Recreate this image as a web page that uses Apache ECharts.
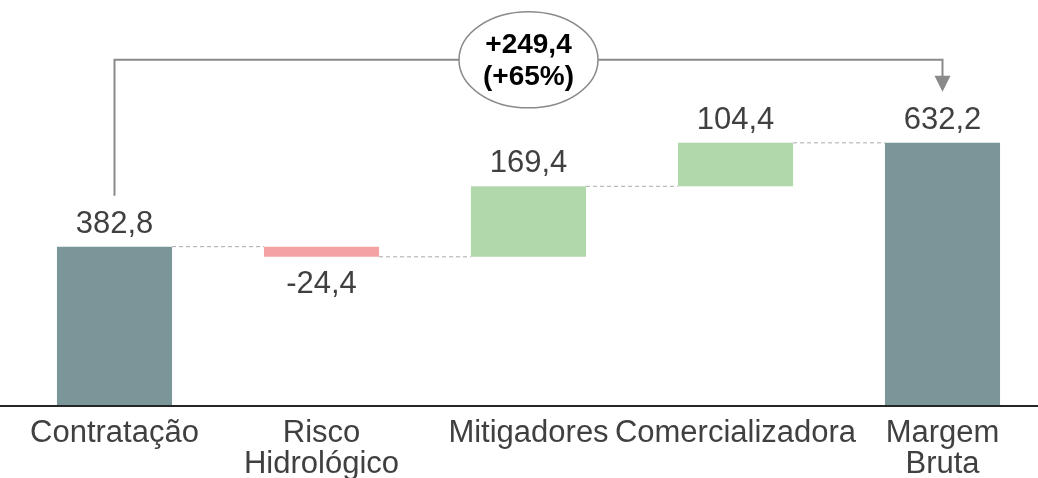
<!DOCTYPE html>
<html><head><meta charset="utf-8">
<script src="https://cdn.jsdelivr.net/npm/echarts@6/dist/echarts.min.js"></script>
<style>html,body{margin:0;padding:0;background:#fff}#c{width:1038px;height:478px}</style>
</head><body><div id="c"></div>
<script>
const categories = ['Contratação', 'Risco\nHidrológico', 'Mitigadores', 'Comercializadora', 'Margem\nBruta'];
const deltas = [382.8, -24.4, 169.4, 104.4, 632.2];
const isTotal = [true, false, false, false, true];
const bracketText = ['+249,4', '(+65%)'];
const bracketFrom = 0;
const bracketTo = 4;

const FONT = "'Liberation Sans', Arial, sans-serif";
const C_TOTAL = '#7B9698', C_POS = '#B0D8AA', C_NEG = '#F4A3A3';
const fmt = v => (v < 0 ? '-' : '') + Math.abs(v).toFixed(1).replace('.', ',');

// derived running totals
const bases = [], heights = [], tops = [], levels = [];
let run = 0;
deltas.forEach((d, i) => {
  if (isTotal[i]) { bases.push(0); heights.push(d); run = d; }
  else if (d >= 0) { bases.push(run); heights.push(d); run += d; }
  else { bases.push(run + d); heights.push(-d); run += d; }
  tops.push(bases[i] + heights[i]);
  levels.push(run);
});
const connectors = [];
for (let i = 0; i < deltas.length - 1; i++) connectors.push([i, levels[i]]);

const BAR_FRAC = 0.556;
const chart = echarts.init(document.getElementById('c'));
chart.setOption({
  animation: false,
  backgroundColor: '#fff',
  grid: { left: 11, width: 1035, top: 73, bottom: 72, outerBoundsMode: 'none', containLabel: false },
  xAxis: {
    type: 'category', data: categories,
    axisLine: { show: false }, axisTick: { show: false },
    axisLabel: { interval: 0, fontSize: 31, lineHeight: 31, color: '#404040', fontFamily: FONT, margin: 12 }
  },
  yAxis: { type: 'value', min: 0, max: 800, show: false, splitLine: { show: false } },
  series: [
    { type: 'bar', stack: 'w', silent: true, barWidth: (BAR_FRAC * 100) + '%',
      itemStyle: { color: 'rgba(0,0,0,0)' }, data: bases },
    { type: 'bar', stack: 'w', barWidth: (BAR_FRAC * 100) + '%',
      data: heights.map((h, i) => ({
        value: h,
        itemStyle: { color: isTotal[i] ? C_TOTAL : (deltas[i] >= 0 ? C_POS : C_NEG) },
        label: deltas[i] < 0 ? { position: 'bottom', distance: 12 } : undefined
      })),
      label: { show: true, position: 'top', distance: 7, fontSize: 31, color: '#404040', fontFamily: FONT,
        formatter: p => fmt(deltas[p.dataIndex]) }
    },
    { type: 'custom', silent: true, clip: false, z: 1,
      encode: { x: 0, y: 1 }, data: connectors,
      renderItem: (params, api) => {
        const i = api.value(0), lv = api.value(1);
        const bw = api.size([1, 0])[0] * BAR_FRAC;
        const p0 = api.coord([i, lv]), p1 = api.coord([i + 1, lv]);
        return { type: 'line', shape: { x1: p0[0] + bw / 2, y1: p0[1], x2: p1[0] - bw / 2, y2: p1[1] },
          style: { stroke: '#aaaaaa', lineWidth: 1, lineDash: [4, 3] } };
      }
    },
    { type: 'custom', silent: true, clip: false, z: 5,
      encode: { x: 0, y: 1 }, data: [[0, 0]],
      renderItem: (params, api) => {
        const a = api.coord([bracketFrom, tops[bracketFrom]]);
        const b = api.coord([bracketTo, tops[bracketTo]]);
        const yBase = api.coord([0, 0])[1];
        const y0 = a[1] - 51, y1 = b[1] - 51;
        const yTop = Math.min(a[1], b[1]) - 83;
        const xm = (a[0] + b[0]) / 2;
        const col = '#8a8a8a';
        return { type: 'group', children: [
          { type: 'line', shape: { x1: 0, y1: yBase, x2: api.getWidth(), y2: yBase },
            style: { stroke: '#262626', lineWidth: 2 } },
          { type: 'polyline', shape: { points: [[a[0], y0], [a[0], yTop], [b[0], yTop], [b[0], y1 - 14]] },
            style: { stroke: col, lineWidth: 2, fill: null } },
          { type: 'polygon', shape: { points: [[b[0] - 8, y1 - 16], [b[0] + 8, y1 - 16], [b[0], y1]] },
            style: { fill: col } },
          { type: 'ellipse', shape: { cx: xm, cy: yTop, rx: 69.5, ry: 48 },
            style: { fill: '#fff', stroke: col, lineWidth: 1.5 } },
          { type: 'text', style: { text: bracketText.join('\n'), x: xm, y: yTop + 1, align: 'center', verticalAlign: 'middle',
            fontSize: 28, fontWeight: 'bold', fontFamily: FONT, lineHeight: 32, fill: '#000' } }
        ] };
      }
    }
  ]
});
</script></body></html>
